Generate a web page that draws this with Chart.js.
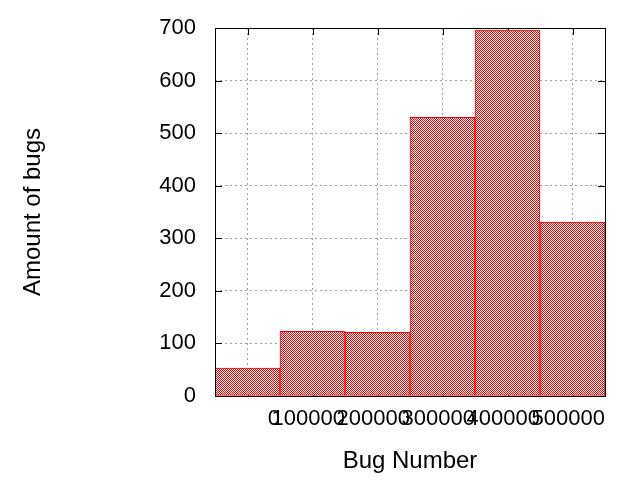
<!DOCTYPE html>
<html>
<head>
<meta charset="utf-8">
<script src="https://cdn.jsdelivr.net/npm/chart.js@4"></script>
<style>
  html, body { margin: 0; padding: 0; background: #fff; }
  #wrap { width: 640px; height: 480px; }
</style>
</head>
<body>
<div id="wrap"><canvas id="bugs-chart" width="640" height="480"></canvas></div>
<script>
// histogram bins, each 100000 bug numbers wide
const binCenters = [-50000, 50000, 150000, 250000, 350000, 450000];
const bugCounts = [53, 123, 121, 530, 696, 331];
const xTickValues = [-100000, 0, 100000, 200000, 300000, 400000, 500000];
const yTickValues = [0, 100, 200, 300, 400, 500, 600, 700];

const FONT = "'Liberation Sans', Arial, sans-serif";

// small red/white checker tile, like the gnuplot fill pattern
function makePattern() {
  const tile = document.createElement("canvas");
  tile.width = 2;
  tile.height = 2;
  const tctx = tile.getContext("2d");
  tctx.fillStyle = "#ffffff";
  tctx.fillRect(0, 0, 2, 2);
  tctx.fillStyle = "#ff0000";
  tctx.fillRect(0, 0, 1, 1);
  tctx.fillRect(1, 1, 1, 1);
  return tctx.createPattern(tile, "repeat");
}

// inward tick marks on all four sides, drawn under the bars
const innerTicks = {
  id: "innerTicks",
  beforeDatasetsDraw(chart) {
    const { ctx, chartArea: a, scales } = chart;
    const len = 7;
    ctx.save();
    ctx.strokeStyle = "#000";
    ctx.lineWidth = 1;
    ctx.beginPath();
    scales.y.ticks.forEach((t) => {
      const py = Math.round(scales.y.getPixelForValue(t.value)) + 0.5;
      ctx.moveTo(a.left, py);
      ctx.lineTo(a.left + len, py);
      ctx.moveTo(a.right, py);
      ctx.lineTo(a.right - len, py);
    });
    const xt = scales.x.ticks;
    for (let i = 1; i < xt.length; i++) {
      const mid = (xt[i - 1].value + xt[i].value) / 2;
      const px = Math.round(scales.x.getPixelForValue(mid)) + 0.5;
      ctx.moveTo(px, a.top);
      ctx.lineTo(px, a.top + len);
      ctx.moveTo(px, a.bottom);
      ctx.lineTo(px, a.bottom - len);
    }
    ctx.stroke();
    ctx.restore();
  },
  afterDatasetsDraw(chart) {
    const { ctx, chartArea: a } = chart;
    ctx.save();
    ctx.strokeStyle = "#000";
    ctx.lineWidth = 1;
    ctx.strokeRect(Math.round(a.left) + 0.5, Math.round(a.top) + 0.5,
      Math.round(a.right - a.left), Math.round(a.bottom - a.top));
    ctx.restore();
  },
};

const data = {
  datasets: [
    {
      label: "Amount of bugs",
      data: binCenters.map((x, i) => ({ x: x, y: bugCounts[i] })),
      backgroundColor: makePattern(),
      borderColor: "#ff0000",
      borderWidth: 1,
      borderSkipped: false,
      barPercentage: 1,
      categoryPercentage: 1,
    },
  ],
};

const config = {
  type: "bar",
  data: data,
  plugins: [innerTicks],
  options: {
    responsive: false,
    animation: false,
    layout: {
      padding: { top: 28, right: 35, left: 0, bottom: 0 },
    },
    plugins: {
      legend: { display: false },
      tooltip: { enabled: false },
    },
    scales: {
      x: {
        type: "linear",
        offset: false,
        min: xTickValues[0],
        max: xTickValues[xTickValues.length - 1],
        afterBuildTicks: (scale) => {
          scale.ticks = xTickValues.map((v) => ({ value: v }));
        },
        afterFit: (scale) => {
          scale.height = 84;
        },
        border: { display: false, dash: [2, 3] },
        grid: {
          offset: true,
          color: "#a0a0a0",
          lineWidth: 1,
          drawTicks: false,
        },
        ticks: {
          autoSkip: false,
          maxRotation: 0,
          minRotation: 0,
          align: "end",
          padding: 10,
          color: "#000",
          font: { family: FONT, size: 22 },
          callback: (v) => (v < 0 ? "" : String(v)),
        },
        title: {
          display: true,
          text: "Bug Number",
          color: "#000",
          font: { family: FONT, size: 24 },
          padding: { top: 0, bottom: 4 },
        },
      },
      y: {
        min: yTickValues[0],
        max: yTickValues[yTickValues.length - 1],
        afterBuildTicks: (scale) => {
          scale.ticks = yTickValues.map((v) => ({ value: v }));
        },
        afterFit: (scale) => {
          scale.width = 215;
        },
        border: { display: false, dash: [2, 3] },
        grid: {
          color: "#a0a0a0",
          lineWidth: 1,
          drawTicks: true,
          tickLength: 11,
          tickColor: "rgba(0,0,0,0)",
        },
        ticks: {
          padding: 8,
          color: "#000",
          font: { family: FONT, size: 22 },
        },
        title: {
          display: true,
          text: "Amount of bugs",
          color: "#000",
          font: { family: FONT, size: 24 },
          padding: { top: 19, bottom: 0 },
        },
      },
    },
  },
};

new Chart(document.getElementById("bugs-chart"), config);
</script>
</body>
</html>
